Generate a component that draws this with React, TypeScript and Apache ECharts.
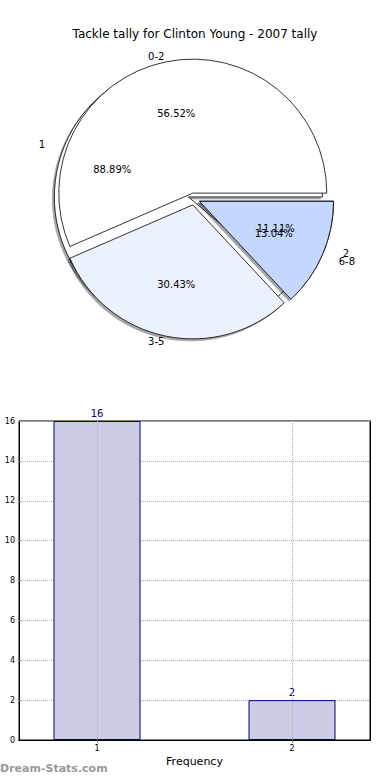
import React, { useEffect, useRef } from "react";
import * as echarts from "echarts";

const titleText = "Tackle tally for Clinton Young - 2007 tally";
const watermarkText = "Dream-Stats.com";

// Pie drawn in front: tally ranges
const rangeLabels = ["0-2", "3-5", "6-8"];
const rangeValues = [13, 7, 3];
const rangeColors = ["#FFFFFF", "#EBF1FF", "#C4D8FF"];
const rangeShadow = [false, true, true];

// Pie drawn behind: tally counts
const countLabels = ["1", "2"];
const countValues = [16, 2];
const countColors = ["#FFFFFF", "#EBF1FF"];
const countShadow = [true, true];

// Bar chart
const barX = [1, 2];
const barValues = [16, 2];
const xTickValues = [1, 2];
const yMin = 0;
const yMax = 16;
const yStep = 2;
const xAxisName = "Frequency";
const yAxisName = "Stat Interval";

const FONT = "DejaVu Sans";
const CENTER = [194, 199];
const R = 134;
// label distance (horizontal / vertical) used to mimic the original's oval pie
const NAME_DIST_X = 160;
const NAME_DIST_Y = 145;

function midAngles(values: number[]) {
  const total = values.reduce((a, b) => a + b, 0);
  let acc = 0;
  return values.map((v) => {
    const mid = ((acc + v / 2) / total) * Math.PI * 2;
    acc += v;
    return mid;
  });
}

function mainPie(names: string[], values: number[], colors: string[], shadows: boolean[], offset: number) {
  return {
    type: "pie",
    center: CENTER,
    radius: [0, R],
    startAngle: 0,
    clockwise: false,
    selectedMode: "multiple",
    selectedOffset: offset,
    avoidLabelOverlap: false,
    silent: true,
    label: { show: false },
    labelLine: { show: false },
    emphasis: { disabled: true },
    select: { itemStyle: { borderColor: "#000", borderWidth: 0.8 } },
    data: names.map((n, i) => ({
      name: n,
      value: values[i],
      selected: true,
      itemStyle: {
        color: colors[i],
        borderColor: "#000",
        borderWidth: 0.8,
        shadowColor: shadows[i] ? "rgba(0,0,0,0.35)" : "rgba(0,0,0,0)",
        shadowBlur: shadows[i] ? 1.5 : 0,
        shadowOffsetX: shadows[i] ? -2 : 0,
        shadowOffsetY: shadows[i] ? 2 : 0,
      },
    })),
  };
}

function nameLabelPie(names: string[], values: number[]) {
  const mids = midAngles(values);
  return {
    type: "pie",
    center: CENTER,
    radius: [0, R],
    startAngle: 0,
    clockwise: false,
    avoidLabelOverlap: false,
    silent: true,
    itemStyle: { color: "rgba(0,0,0,0)", borderWidth: 0 },
    emphasis: { disabled: true },
    labelLayout: { hideOverlap: false },
    label: {
      show: true,
      position: "outside",
      formatter: "{b}",
      fontSize: 10,
      color: "#000",
      fontFamily: FONT,
      distanceToLabelLine: 0,
    },
    labelLine: { show: false, length: 18, length2: 0 },
    data: names.map((n, i) => {
      const a = mids[i];
      const d = Math.sqrt(Math.pow(NAME_DIST_X * Math.cos(a), 2) + Math.pow(NAME_DIST_Y * Math.sin(a), 2));
      return { name: n, value: values[i], labelLine: { show: false, length: d - R, length2: 0 } };
    }),
  };
}

function pctLabelPie(names: string[], values: number[]) {
  const total = values.reduce((a, b) => a + b, 0);
  return {
    type: "pie",
    center: CENTER,
    radius: [0, 168],
    startAngle: 0,
    clockwise: false,
    avoidLabelOverlap: false,
    silent: true,
    itemStyle: { color: "rgba(0,0,0,0)", borderWidth: 0 },
    emphasis: { disabled: true },
    labelLayout: { hideOverlap: false },
    label: {
      show: true,
      position: "inner",
      formatter: (p: any) => ((p.value / total) * 100).toFixed(2) + "%",
      fontSize: 10,
      color: "#000",
      fontFamily: FONT,
    },
    labelLine: { show: false },
    data: names.map((n, i) => ({ name: n, value: values[i] })),
  };
}

const gridLine = { show: true, lineStyle: { color: "#b0b0b0", type: "dotted", width: 1 } };

export default function App() {
  const ref = useRef<HTMLDivElement>(null);
  useEffect(() => {
    document.body.style.margin = "0";
    if (!ref.current) return;
    const chart = echarts.init(ref.current, null, { renderer: "svg" });
    chart.setOption({
      animation: false,
      backgroundColor: "#ffffff",
      textStyle: { fontFamily: FONT },
      title: {
        text: titleText,
        left: "center",
        top: 23,
        textStyle: { fontSize: 12, fontWeight: "normal", color: "#000", fontFamily: FONT },
      },
      grid: {
        left: 19,
        right: 20,
        top: 421,
        bottom: 40,
        containLabel: false,
        outerBoundsMode: "none",
        show: true,
        borderColor: "#000",
        borderWidth: 1,
        backgroundColor: "rgba(0,0,0,0)",
      },
      xAxis: [
        {
          type: "value",
          min: 0.6,
          max: 2.4,
          z: 3,
          name: xAxisName,
          nameLocation: "middle",
          nameGap: 16,
          nameTextStyle: { fontSize: 11, color: "#000", fontFamily: FONT },
          axisLine: { show: true, lineStyle: { color: "#000" } },
          axisTick: { show: true, inside: true, length: 3, customValues: xTickValues, lineStyle: { color: "#999" } },
          axisLabel: { customValues: xTickValues, fontSize: 8, color: "#000", margin: 4 },
          splitLine: gridLine,
        },
        {
          type: "value",
          position: "top",
          min: 0.6,
          max: 2.4,
          axisLine: { show: true, lineStyle: { color: "#000" } },
          axisTick: { show: true, inside: true, length: 3, customValues: xTickValues, lineStyle: { color: "#999" } },
          axisLabel: { show: false },
          splitLine: { show: false },
        },
      ],
      yAxis: [
        {
          type: "value",
          min: yMin,
          max: yMax,
          interval: yStep,
          name: yAxisName,
          nameLocation: "middle",
          nameGap: 14,
          nameRotate: 90,
          nameTextStyle: { fontSize: 10, color: "#000", fontFamily: FONT },
          axisLine: { show: true, lineStyle: { color: "#000" } },
          axisTick: { show: true, inside: true, length: 3, lineStyle: { color: "#999" } },
          axisLabel: { fontSize: 8, color: "#000", margin: 4 },
          splitLine: gridLine,
        },
        {
          type: "value",
          position: "right",
          min: yMin,
          max: yMax,
          interval: yStep,
          axisLine: { show: true, lineStyle: { color: "#000" } },
          axisTick: { show: true, inside: true, length: 3, lineStyle: { color: "#999" } },
          axisLabel: { show: false },
          splitLine: { show: false },
        },
      ],
      series: [
        mainPie(countLabels, countValues, countColors, countShadow, 6),
        mainPie(rangeLabels, rangeValues, rangeColors, rangeShadow, 6),
        nameLabelPie(countLabels, countValues),
        nameLabelPie(rangeLabels, rangeValues),
        pctLabelPie(countLabels, countValues),
        pctLabelPie(rangeLabels, rangeValues),
        {
          type: "bar",
          xAxisIndex: 0,
          yAxisIndex: 0,
          barWidth: 87,
          data: barX.map((x, i) => [x, barValues[i]]),
          itemStyle: { color: "#CCCCE6", borderColor: "#000080", borderWidth: 1 },
          label: { show: true, position: "top", distance: 3, color: "#000080", fontSize: 10, fontFamily: FONT },
          emphasis: { disabled: true },
          silent: true,
        },
      ],
      graphic: [
        {
          type: "text",
          left: 0,
          top: 763,
          style: { text: watermarkText, fontSize: 11, fontWeight: "bold", fill: "#999999", fontFamily: FONT },
        },
      ],
    });
    return () => chart.dispose();
  }, []);
  return <div ref={ref} style={{ width: 390, height: 780 }} />;
}
